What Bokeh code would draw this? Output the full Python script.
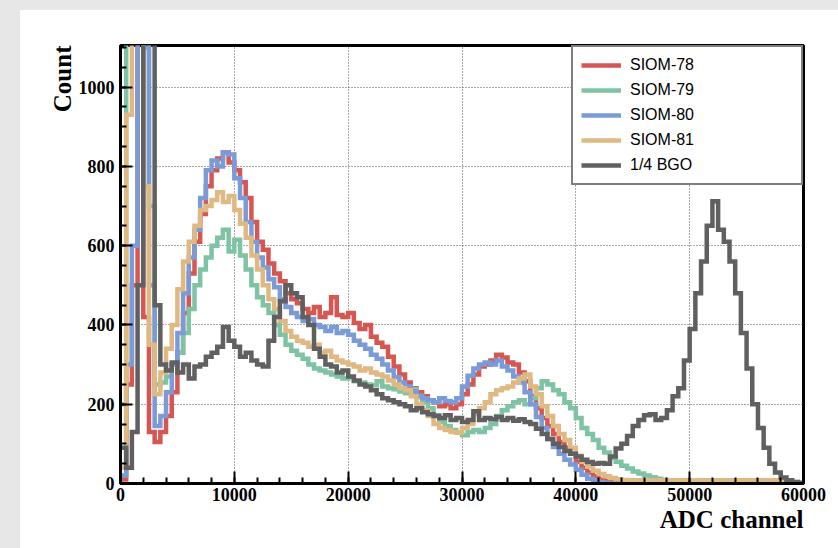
import numpy as np
from bokeh.plotting import figure
from bokeh.models import Range1d, SingleIntervalTicker, BasicTickFormatter, Spacer, Title
from bokeh.layouts import row, column
from bokeh.embed import file_html
from bokeh.resources import INLINE

# ---------------- data (bin width 500 ADC channels, 0..60000) ----------------
BIN_WIDTH = 500
X_MAX = 60000
Y_MAX = 1105

names = ["SIOM-78", "SIOM-79", "SIOM-80", "SIOM-81", "1/4 BGO"]
colors = ["#d65652", "#7ec4a4", "#7a9ad8", "#e0b982", "#606060"]

siom78 = [10, 250, 500, 1300, 420, 130, 105, 130, 170, 230,
          330, 430, 530, 610, 680, 750, 790, 820, 835, 810,
          790, 760, 720, 660, 610, 590, 555, 530, 510, 480,
          465, 455, 440, 430, 445, 420, 430, 470, 425, 420,
          430, 405, 390, 400, 370, 355, 345, 320, 295, 275,
          255, 240, 230, 220, 210, 205, 195, 200, 190, 200,
          225, 250, 275, 295, 300, 310, 325, 318, 305, 300,
          280, 258, 220, 190, 165, 145, 125, 105, 90, 75,
          55, 40, 28, 18, 10, 6, 3, 2, 1, 0,
          0, 0, 0, 0, 0, 0, 0, 0, 0, 0,
          0, 0, 0, 0, 0, 0, 0, 0, 0, 0,
          0, 0, 0, 0, 0, 0, 0, 0, 0, 0]

siom79 = [200, 1300, 1300, 1300, 1300, 700, 250, 255, 270, 300,
          330, 380, 440, 500, 540, 570, 600, 620, 640, 585,
          615, 575, 540, 500, 470, 450, 430, 400, 375, 350,
          335, 325, 315, 300, 290, 285, 280, 275, 270, 265,
          268, 258, 255, 250, 248, 258, 245, 240, 238, 232,
          228, 238, 218, 205, 190, 172, 155, 145, 135, 128,
          122, 130, 135, 130, 140, 150, 170, 185, 195, 205,
          210, 200, 215, 240, 258, 250, 235, 225, 205, 190,
          165, 140, 125, 110, 90, 78, 65, 55, 45, 38,
          30, 25, 20, 16, 12, 9, 7, 5, 4, 3,
          2, 1, 0, 0, 0, 0, 0, 0, 0, 0,
          0, 0, 0, 0, 0, 0, 0, 0, 0, 0]

siom80 = [20, 300, 600, 1300, 1100, 500, 145, 170, 230, 300,
          380, 480, 570, 640, 720, 790, 815, 800, 835, 830,
          770, 720, 660, 610, 570, 545, 515, 495, 465, 445,
          430, 420, 410, 415, 400, 395, 385, 395, 380, 385,
          375, 360, 350, 340, 325, 315, 300, 285, 268, 255,
          245, 232, 222, 215, 210, 205, 215, 208, 205, 215,
          245, 272, 290, 300, 305, 300, 310, 295, 285, 270,
          255, 230, 200, 168, 140, 112, 92, 75, 60, 48,
          35, 22, 12, 6, 3, 1, 0, 0, 0, 0,
          0, 0, 0, 0, 0, 0, 0, 0, 0, 0,
          0, 0, 0, 0, 0, 0, 0, 0, 0, 0,
          0, 0, 0, 0, 0, 0, 0, 0, 0, 0]

siom81 = [40, 930, 1300, 1300, 750, 350, 225, 280, 340, 400,
          490, 560, 610, 650, 690, 700, 715, 735, 710, 725,
          690, 655, 620, 575, 540, 500, 465, 440, 410, 385,
          370, 360, 355, 345, 350, 330, 335, 320, 310, 305,
          300, 295, 285, 290, 280, 275, 270, 260, 250, 240,
          235, 220, 200, 185, 170, 150, 140, 135, 130, 128,
          140, 150, 175, 190, 205, 225, 235, 240, 245, 255,
          265, 275, 245, 225, 195, 170, 145, 125, 110, 90,
          70, 55, 42, 32, 24, 18, 14, 11, 9, 8,
          8, 8, 8, 8, 8, 8, 8, 8, 8, 8,
          8, 8, 8, 8, 8, 8, 8, 8, 8, 8,
          8, 8, 8, 8, 8, 8, 8, 8, 4, 0]

bgo_quarter = [90, 40, 130, 500, 1300, 1200, 450, 300, 285, 305,
               280, 300, 265, 295, 300, 320, 330, 345, 395, 360,
               345, 320, 330, 310, 300, 295, 360, 420, 460, 500,
               480, 470, 420, 400, 340, 320, 300, 295, 280, 285,
               270, 260, 250, 245, 235, 225, 215, 210, 205, 200,
               195, 185, 190, 180, 175, 170, 165, 172, 160, 165,
               155, 160, 182, 160, 165, 162, 168, 160, 165, 158,
               162, 155, 150, 138, 125, 112, 100, 92, 82, 75,
               68, 60, 54, 50, 52, 50, 68, 88, 100, 120,
               145, 160, 172, 175, 160, 165, 185, 220, 240, 310,
               390, 480, 560, 650, 712, 640, 610, 560, 480, 380,
               290, 200, 140, 90, 50, 28, 15, 8, 4, 2]

series = [siom78, siom79, siom80, siom81, bgo_quarter]

x_ticks_interval = 10000
y_ticks_interval = 200
x_title = "ADC channel"
y_title = "Count"

# ---------------- figure ----------------
p = figure(width=818, height=538, output_backend="svg", toolbar_location=None,
           x_range=Range1d(0, X_MAX), y_range=Range1d(0, Y_MAX),
           min_border_left=100, min_border_right=35,
           min_border_top=35, min_border_bottom=65,
           background_fill_color="white", border_fill_color="white")

edges = np.arange(0, X_MAX + BIN_WIDTH, BIN_WIDTH)
for name, vals, col in zip(names, series, colors):
    ys = list(vals) + [vals[-1]]
    p.step(edges, ys, mode="after", line_color=col, line_width=4.5,
           line_join="miter", legend_label=name)

p.xaxis.ticker = SingleIntervalTicker(interval=x_ticks_interval, num_minor_ticks=5)
p.yaxis.ticker = SingleIntervalTicker(interval=y_ticks_interval, num_minor_ticks=4)
for ax in p.axis:
    ax.formatter = BasicTickFormatter(use_scientific=False)
    ax.axis_line_color = "black"
    ax.axis_line_width = 3
    ax.major_tick_in = 12
    ax.major_tick_out = 0
    ax.minor_tick_in = 6
    ax.minor_tick_out = 0
    ax.major_tick_line_width = 2
    ax.minor_tick_line_width = 2
    ax.major_tick_line_color = "black"
    ax.minor_tick_line_color = "black"
    ax.major_label_text_font = "Liberation Serif"
    ax.major_label_text_font_style = "bold"
    ax.major_label_text_font_size = "18px"
    ax.major_label_text_color = "black"
p.xaxis.major_label_standoff = 4
p.yaxis.major_label_standoff = 6

p.grid.grid_line_color = "#555555"
p.grid.grid_line_width = 1
p.grid.grid_line_dash = "1 2"

p.outline_line_color = "black"
p.outline_line_width = 3

lg = p.legend[0]
lg.location = "top_right"
lg.margin = 0
lg.border_line_color = "black"
lg.border_line_width = 2
lg.background_fill_color = "white"
lg.background_fill_alpha = 1
lg.label_text_font = "Liberation Sans"
lg.label_text_font_size = "16px"
lg.label_text_color = "black"
lg.glyph_width = 40
lg.glyph_height = 20
lg.label_height = 20
lg.label_width = 163
lg.label_standoff = 9
lg.spacing = 5
lg.padding = 8

p.add_layout(Title(text=x_title, align="right", text_font="Liberation Serif",
                   text_font_style="bold", text_font_size="25px",
                   text_color="black", standoff=0, offset=0), "below")
p.add_layout(Title(text=y_title, align="right", text_font="Liberation Serif",
                   text_font_style="bold", text_font_size="25px",
                   text_color="black", standoff=0, offset=0), "left")

bg = "#e7e7e7"
left_pad = Spacer(width=20, height=548, styles={"background-color": bg})
top_pad = Spacer(width=818, height=10, styles={"background-color": bg})
layout = row(left_pad, column(top_pad, p))

open("out.html", "w").write(file_html(layout, INLINE))
